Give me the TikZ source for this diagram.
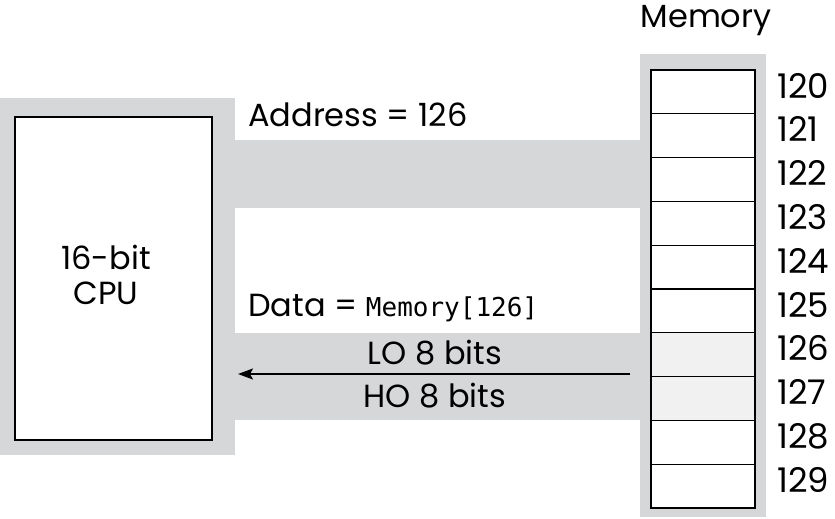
\documentclass[tikz,border=0pt]{standalone}
\usepackage{fontspec}
\setmainfont{Poppins}
\setmonofont{DejaVu Sans Mono}
\usetikzlibrary{arrows.meta,positioning}
\definecolor{BusGray}{RGB}{214,215,217}
\definecolor{CellTint}{RGB}{241,241,242}
\tikzset{
  busbox/.style={fill=BusGray,draw=none,inner sep=0pt,outer sep=0pt},
  cpubox/.style={draw=black,line width=1.5pt,fill=white,inner sep=0pt,outer sep=0pt},
  cell/.style={draw=black,line width=1.3pt,fill=white,minimum width=104pt,minimum height=43.8pt,inner sep=0pt,outer sep=0pt},
  hcell/.style={cell,fill=CellTint},
  txt/.style={inner sep=0pt,font=\fontsize{32}{35}\selectfont},
  lbl/.style={txt,anchor=base west},
  num/.style={txt,anchor=base west,font=\fontsize{34}{35}\selectfont},
  arr/.style={-{Stealth[length=15pt,width=11pt,inset=3pt]},line width=2pt},
}

\begin{document}
\begin{tikzpicture}[x=1pt,y=-1pt]
    \useasboundingbox (0,0) rectangle (835,519);
    % gray frames and buses
    \node[busbox,minimum width=235pt,minimum height=357pt] (cpuframe) at (117.5,276.5) {};
    \node[busbox,minimum width=126pt,minimum height=463pt] (memframe) at (703,285.5) {};
    \node[busbox,minimum width=405pt,minimum height=68pt] (addrbus) at (437.5,174) {};
    \node[busbox,minimum width=405pt,minimum height=87pt] (databus) at (437.5,376.5) {};
    % CPU
    \node[cpubox,minimum width=197pt,minimum height=323pt] (cpu) at (113.5,278.5) {};
    \node[txt,align=center] (cpulbl) at (106,275) {16-bit\\CPU};
    % memory cells
    \node[cell]  (m120) at (703,91.9)  {};
    \node[cell]  (m121) at (703,135.7) {};
    \node[cell]  (m122) at (703,179.5) {};
    \node[cell]  (m123) at (703,223.3) {};
    \node[cell]  (m124) at (703,267.1) {};
    \node[cell]  (m125) at (703,310.9) {};
    \node[hcell] (m126) at (703,354.7) {};
    \node[hcell] (m127) at (703,398.5) {};
    \node[cell]  (m128) at (703,442.3) {};
    \node[cell]  (m129) at (703,486.1) {};
    \node[num] (n120) at (777,98)    {120};
    \node[num] (n121) at (777,141.8) {121};
    \node[num] (n122) at (777,185.6) {122};
    \node[num] (n123) at (777,229.4) {123};
    \node[num] (n124) at (777,273.2) {124};
    \node[num] (n125) at (777,317)   {125};
    \node[num] (n126) at (777,360.8) {126};
    \node[num] (n127) at (777,404.6) {127};
    \node[num] (n128) at (777,448.4) {128};
    \node[num] (n129) at (777,492.2) {129};
    \node[txt,anchor=base] (memlbl) at (706,28) {Memory};
    % bus labels
    \node[lbl] (addrlbl) at (248,126) {Address = 126};
    \node[lbl] (datalbl) at (248,316) {Data = {\fontsize{26}{30}\selectfont\ttfamily Memory[126]}};
    \node[txt,anchor=base] (lolbl) at (435,364) {LO 8 bits};
    \node[txt,anchor=base] (holbl) at (435,407) {HO 8 bits};
    \coordinate (busin) at (630,374);
    \draw[arr] (busin) -- ([xshift=3pt]busin -| cpuframe.east);
  \end{tikzpicture}
\end{document}
